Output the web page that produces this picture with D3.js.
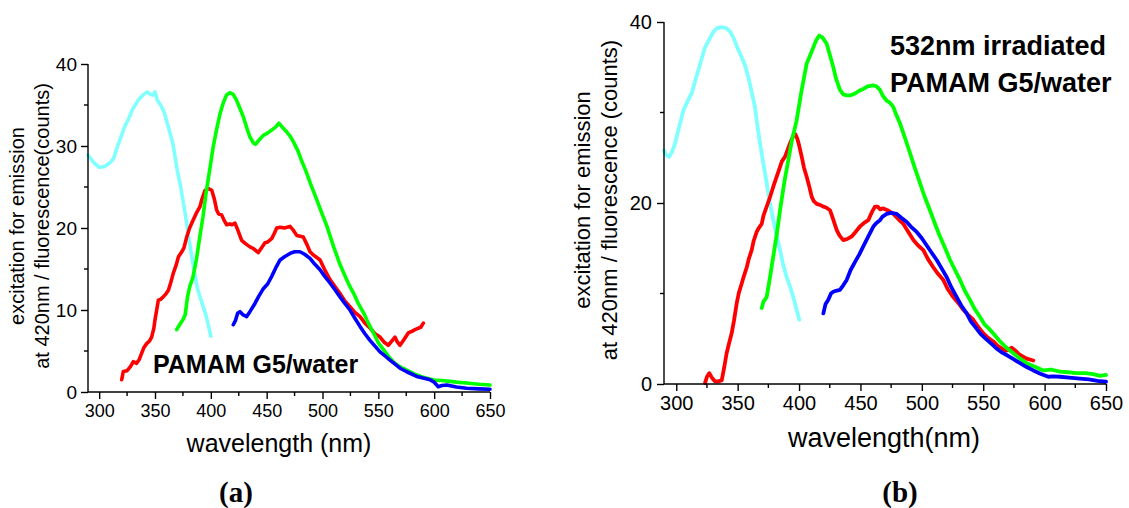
<!DOCTYPE html>
<html><head><meta charset="utf-8">
<script src="https://d3js.org/d3.v7.min.js"></script>
<style>
body{margin:0;background:#fff;}
svg{display:block;font-family:"Liberation Sans",Arial,sans-serif;}
.pl{font-family:"Liberation Serif","Times New Roman",serif;font-weight:bold;}
</style></head><body>
<svg id="c" width="1129" height="508"></svg>
<script>
// ---------- Panel (a) data ----------
const aCyan = [[290,28.9],[295,28],[300,27.4],[305,27.5],[310,28],[313,28.5],[316,29.8],[320,31.3],[323,32.4],[326,33.2],[330,34.5],[335,35.6],[340,36.3],[343,36.6],[346,36.3],[348,36.2],[350,36.6],[352,35.6],[355,35],[358,34.2],[362,32.3],[366,30.3],[370,27],[373,25],[377,21.8],[380,19],[384,15.6],[388,12.6],[392,10.9],[396,9.2],[398,8],[400,6.8]];
const aGreen = [[369.4,7.6],[372,8.2],[375,8.8],[377,9.4],[379,11.5],[381,12.8],[384,14],[387,16.1],[390,18.8],[393,21.4],[396,24.5],[399,27.1],[402,29.8],[405,31.9],[408,33.8],[411,35.2],[414,36.2],[417,36.5],[420,36.3],[423,35.6],[426,34.6],[429,33.6],[432,32.3],[435,31.1],[438,30.4],[440,30.2],[443,30.7],[447,31.3],[451,31.6],[455,32],[458,32.3],[461,32.8],[464,32.3],[468,31.7],[471,31.2],[474,30.5],[478,29.4],[481,28.3],[485,27],[489,25.5],[495,23.4],[500,21.6],[504,20.2],[510,17.7],[515,15.8],[519,14.5],[524,13],[528,12],[532,10.8],[537,9.6],[541,8.4],[546,7.1],[550,6],[555,5.1],[560,4.2],[564,3.6],[568,3.2],[572,2.9],[578,2.5],[584,2.1],[590,1.8],[596,1.6],[600,1.45],[607,1.4],[614,1.3],[620,1.2],[629,1.1],[640,0.95],[650,0.85]];
const aRed = [[320.2,1.5],[321.6,2.5],[325,2.6],[328,3.1],[330.6,3.7],[333.5,3.5],[336,4],[338,4.7],[340,5.4],[342.5,5.9],[345,6.2],[347,6.7],[349,7.8],[350,8.8],[352,10.4],[353,11.2],[355,11.3],[357.4,11.6],[360,12],[362,12.4],[364,13.3],[366.4,14.5],[369,15.5],[371,16.5],[374,17.1],[376,17.6],[378.4,18.9],[381,20],[384.3,21],[387,21.8],[390.3,22.6],[392,23.5],[394.8,24.6],[398,24.8],[400.8,24.6],[403,23.6],[405.2,22.2],[407,21.7],[409.7,21.6],[412,20.9],[414.2,20.4],[417,20.5],[419,20.4],[421.6,20.6],[424,19.8],[427.6,18.5],[431,18.1],[435,17.7],[438,17.5],[442.5,17],[445,17.5],[448.5,18.2],[451,18.3],[454.5,18.7],[457,19.4],[459,20],[462,20.1],[466,20],[470.9,20.2],[474,19.7],[476.9,19.1],[480,19],[482.8,18.9],[486,18],[488.8,17.1],[492,16.7],[497.8,16.1],[502,14.9],[506.7,13.7],[511,12.9],[515.7,12],[520,11.1],[524.6,10.4],[529,9.7],[533.6,9.2],[538,8.4],[542.5,7.8],[547,7.1],[551.5,6.7],[555,6.1],[558.9,5.7],[562,6.2],[564.9,6.7],[567,6.1],[569.4,5.7],[573,6.4],[576.8,7.2],[580,7.4],[582.8,7.6],[586,7.8],[588,7.9],[590.3,8.4]];
const aBlue = [[420.1,8.2],[422,8.7],[424,9.6],[426.1,9.8],[429,9.4],[432.1,9.2],[435,9.8],[439.5,10.8],[443,11.7],[447,12.6],[451,13.2],[454.5,14.1],[458,15.1],[462,16.1],[466,16.5],[470.9,16.9],[475,17.1],[479.8,17.1],[484,16.8],[488.8,16.3],[493,15.6],[497.8,14.9],[502,14.1],[506.7,13.3],[511,12.5],[515.7,11.6],[520,10.8],[524.6,10],[529,9],[533.6,8],[538,7.1],[542.5,6.3],[547,5.6],[551.5,4.9],[556,4.4],[560.4,3.9],[565,3.4],[569.4,2.9],[575,2.5],[584.3,1.9],[590,1.7],[596.3,1.5],[600,1.2],[603.7,0.65],[607,0.8],[611.2,0.85],[620,0.6],[629,0.45],[640,0.38],[650,0.33]];

// ---------- Panel (b) data ----------
const bCyan = [[290,25.8],[292,25.3],[294.3,25.1],[297,25.8],[299,26.6],[302,28.2],[305.7,30.2],[309,31.2],[312.5,32.1],[315,33.3],[318,34.7],[321,36.1],[323.4,37.2],[327,38.1],[330.2,38.9],[333,39.3],[335.6,39.4],[338,39.4],[341,39.3],[344,38.9],[346.4,38.3],[350,37.1],[353.3,36.1],[356,35.2],[358.7,33.9],[361,32.5],[364.1,30.6],[366,28.6],[368.2,26.6],[371,24.3],[373.6,22.2],[376,20.2],[379,18.1],[382,16.3],[384.5,14.8],[387,13.2],[389.9,11.8],[393,10.6],[395.3,9.6],[398,8.2],[400.2,7.1]];
const bGreen = [[369.6,8.4],[371,9.1],[373.6,9.6],[376,11.5],[379,14.1],[382,16.7],[384.5,19.2],[388,22.3],[391.2,24.7],[394,26.8],[398,29.1],[402,32.4],[406.2,35.4],[409,36.3],[411.6,37.2],[414,38],[416.5,38.5],[419,38.3],[422.5,37.6],[425,36.4],[427.9,35],[430,33.8],[433.3,32.5],[436,32],[438.8,31.9],[442,31.9],[445.6,32.1],[449,32.4],[452.3,32.6],[456,32.9],[460.5,33],[463,32.9],[465.9,32.5],[468,31.9],[471.4,31.3],[474,31.1],[476.8,30.6],[479,29.8],[482.2,28.8],[486,27.3],[490.4,25.5],[494,24],[498.5,22.2],[502,20.8],[506.6,19.2],[511,17.6],[514.8,16.3],[519,15],[523,13.7],[527,12.6],[531.1,11.5],[535,10.3],[539.2,9.3],[543,8.3],[547.4,7.4],[551,6.6],[555.5,6],[560,5.3],[563.7,4.7],[569,4],[574.5,3.4],[580,2.8],[585.4,2.3],[592,1.9],[599,1.5],[605,1.6],[612.5,1.36],[619,1.3],[626,1.2],[633,1.2],[639.6,1.1],[645,0.9],[650,1.0]];
const bRed = [[323.4,0.1],[325,0.8],[326.9,1.2],[329,0.7],[331.5,0.3],[334,0.3],[337,0.4],[339,1.8],[341,3.4],[343,4.5],[345.1,5.6],[347,7],[349.2,8.9],[351,10.1],[353.3,11.1],[355,11.9],[357.4,12.9],[359,13.8],[361.4,14.8],[363,15.8],[365.5,16.8],[367,17.2],[369.6,17.7],[371,18.6],[373.6,19.6],[376,20.5],[379,21.8],[382,23],[384.5,24],[386,24.6],[388.5,25.1],[390.5,25.8],[392.6,26.6],[395.3,27.4],[397,27.6],[398.6,27.1],[400,26.4],[402.2,25.1],[404,23.9],[406.2,22.9],[408,22],[410.3,20.7],[412,20.2],[414.4,19.9],[417,19.8],[419.8,19.6],[422,19.5],[425.2,19.2],[428,18.1],[430.7,17],[433,16.4],[436,15.9],[439,16],[442.9,16.3],[446,16.8],[449.6,17.4],[453,17.8],[456.4,18.1],[459,18.9],[461.8,19.6],[464,19.6],[466,19.3],[468.6,19.4],[472,19.2],[476.8,18.8],[481,18.2],[484.9,17.7],[489,16.8],[493.1,15.9],[497,15.3],[501.2,14.8],[505,13.8],[509.3,12.9],[513,12.2],[517.5,11.5],[521,10.5],[525.6,9.6],[530,8.9],[533.8,8.2],[538,7.6],[541.9,7.1],[546,6.3],[550.1,5.6],[554,5.1],[558.2,4.7],[562,4.2],[566.4,3.8],[569,3.7],[573.2,4],[576,3.7],[580,3.2],[585.4,2.8],[590.8,2.6]];
const bBlue = [[419.8,7.8],[421.5,8.8],[423.8,9.3],[426,10],[427.9,10.2],[430,10.3],[433.3,10.4],[436,10.9],[438.8,11.5],[442,12.6],[445.6,13.5],[449,14.3],[452.3,15.2],[456,16.2],[460.5,17.4],[463,17.8],[465.9,18.1],[468,18.5],[471.4,18.8],[475,18.9],[479.5,18.8],[483,18.4],[487.7,17.9],[491,17.4],[495.8,16.8],[500,16.1],[504,15.3],[508,14.5],[512.1,13.7],[516,12.8],[520.3,11.8],[524,10.7],[528.4,9.6],[532,8.7],[536.5,7.8],[540,6.9],[544.7,6.1],[548,5.5],[552.8,4.9],[557,4.4],[561,3.9],[565,3.5],[569.1,3.2],[574,2.8],[580,2.3],[585,1.9],[590.8,1.5],[597,1.1],[603,0.8],[607,0.85],[612.5,0.8],[620,0.7],[628.8,0.6],[636,0.5],[643,0.35],[650,0.25]];

// ---------- Ticks & labels ----------
const xTicksMajor = [300,350,400,450,500,550,600,650];
const aYTicksMajor = [0,10,20,30,40];
const bYTicksMajor = [0,20,40];
const aYTitle = ["excitation for emission","at 420nm / fluorescence(counts)"];
const bYTitle = ["excitation for emission","at 420nm / fluorescence (counts)"];
const aXTitle = "wavelength (nm)";
const bXTitle = "wavelength(nm)";
const aNote = ["PAMAM G5/water"];
const bNote = ["532nm irradiated","PAMAM G5/water"];
const panelLabels = ["(a)","(b)"];

const colors = {cyan:"#80ffff", green:"#00ff00", red:"#ff0000", blue:"#0000ff"};
const svg = d3.select("#c");

function panel(cfg){
  const g = svg.append("g");
  const x = d3.scaleLinear().domain([290,650]).range([cfg.x0,cfg.x1]);
  const y = d3.scaleLinear().domain([0,40]).range([cfg.y0,cfg.y1]);
  const line = d3.line().x(d=>x(d[0])).y(d=>y(d[1]));
  const series = [[cfg.cyan,colors.cyan],[cfg.red,colors.red],[cfg.green,colors.green],[cfg.blue,colors.blue]];
  series.forEach(([data,c])=>{
    g.append("path").datum(data).attr("d",line).attr("fill","none")
     .attr("stroke",c).attr("stroke-width",cfg.lw).attr("stroke-linejoin","round").attr("stroke-linecap","round");
  });
  // x axis
  const xa = g.append("g").attr("transform",`translate(0,${cfg.y0})`)
    .call(d3.axisBottom(x).tickValues(xTicksMajor).tickSize(cfg.tMaj).tickPadding(cfg.xPad).tickFormat(d3.format("d")));
  xa.select(".domain").attr("d",`M${cfg.x0},0H${cfg.x1}`);
  const xMinor = d3.range(300,651,25).filter(v=>v%50!==0);
  xa.selectAll(".minor").data(xMinor).enter().append("line").attr("class","minor")
    .attr("x1",d=>x(d)).attr("x2",d=>x(d)).attr("y1",0).attr("y2",cfg.tMin).attr("stroke","#000");
  xa.selectAll("text").attr("font-size",cfg.tickFont).attr("font-family","Liberation Sans, Arial, sans-serif").attr("fill","#000");
  // y axis
  const ya = g.append("g").attr("transform",`translate(${cfg.x0},0)`)
    .call(d3.axisLeft(y).tickValues(cfg.yTicks).tickSize(cfg.tMaj).tickPadding(cfg.yPad).tickFormat(d3.format("d")));
  ya.select(".domain").attr("d",`M0,${cfg.y0}V${cfg.y1}`);
  ya.selectAll(".minor").data(cfg.yMinor).enter().append("line").attr("class","minor")
    .attr("y1",d=>y(d)).attr("y2",d=>y(d)).attr("x1",0).attr("x2",-cfg.tMin).attr("stroke","#000");
  ya.selectAll("text").attr("font-size",cfg.yTickFont).attr("font-family","Liberation Sans, Arial, sans-serif").attr("fill","#000");
  [xa,ya].forEach(a=>{a.selectAll("path,line").attr("stroke-width",1.4);});
  // axis titles
  g.append("text").attr("x",cfg.xtX).attr("y",cfg.xtY).attr("text-anchor","middle")
    .attr("font-size",cfg.xtFont).text(cfg.xTitle);
  cfg.yTitle.forEach((t,i)=>{
    g.append("text").attr("transform",`translate(${cfg.ytX[i]},${cfg.ytY}) rotate(-90)`)
      .attr("text-anchor","middle").attr("font-size",cfg.ytFont).text(t);
  });
  cfg.note.forEach((t,i)=>{
    g.append("text").attr("x",cfg.noteX).attr("y",cfg.noteY+i*cfg.noteDy).attr("font-weight","bold")
      .attr("font-size",cfg.noteFont).text(t);
  });
  g.append("text").attr("class","pl").attr("x",cfg.plX).attr("y",cfg.plY).attr("text-anchor","middle")
    .attr("font-size",29).text(cfg.pl);
}

panel({x0:88,x1:490,y0:392,y1:64,cyan:aCyan,red:aRed,green:aGreen,blue:aBlue,lw:3.6,
  tMaj:7,tMin:4,xPad:5,yPad:4,tickFont:18,yTickFont:19,yTicks:aYTicksMajor,yMinor:[5,15,25,35],
  xTitle:aXTitle,xtX:279,xtY:452,xtFont:25,yTitle:aYTitle,ytX:[24,49],ytY:226,ytFont:20,
  note:aNote,noteX:153,noteY:373,noteDy:0,noteFont:25,pl:panelLabels[0],plX:236,plY:502});
panel({x0:664,x1:1106,y0:384,y1:22,cyan:bCyan,red:bRed,green:bGreen,blue:bBlue,lw:3.8,
  tMaj:7,tMin:4,xPad:5,yPad:5,tickFont:20,yTickFont:20,yTicks:bYTicksMajor,yMinor:[10,30],
  xTitle:bXTitle,xtX:884,xtY:447,xtFont:27,yTitle:bYTitle,ytX:[590,617],ytY:200,ytFont:22,
  note:bNote,noteX:890,noteY:55,noteDy:37,noteFont:27,pl:panelLabels[1],plX:900,plY:502});
</script></body></html>
